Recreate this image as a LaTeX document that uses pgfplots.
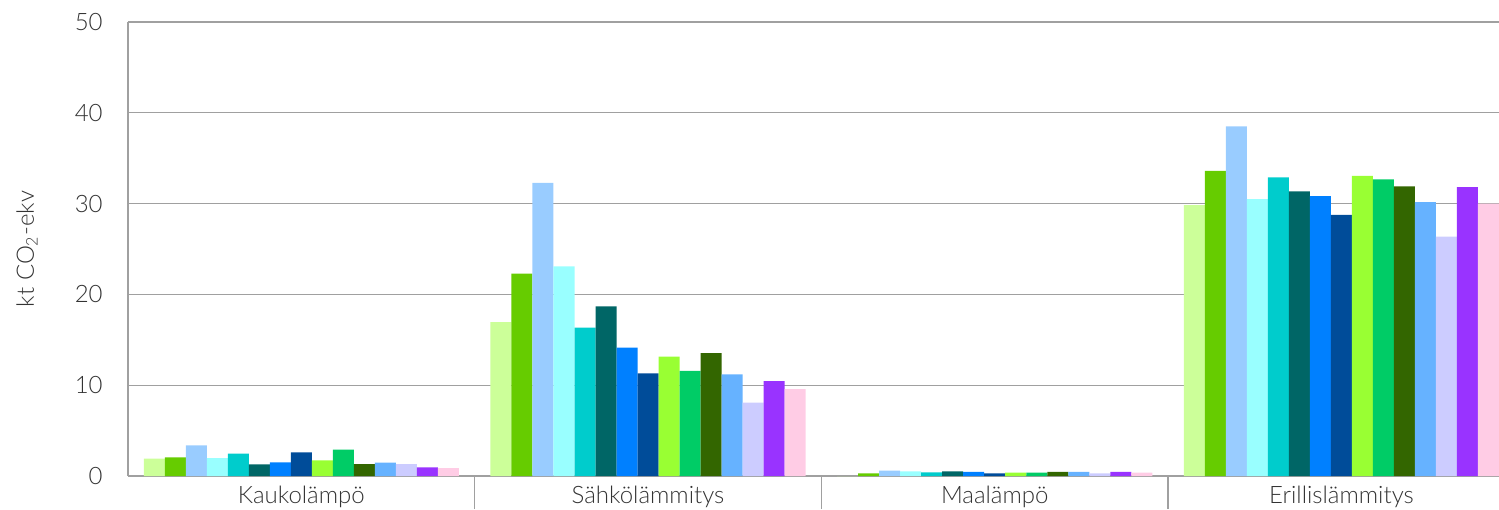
\documentclass[border=0pt]{standalone}
\usepackage{fontspec}
\setmainfont{Lato Light}
\usepackage{pgfplots}
\usepackage{pgfplotstable}
\pgfplotsset{compat=1.18}
\definecolor{c1}{HTML}{CCFF99}
\definecolor{c2}{HTML}{66CC00}
\definecolor{c3}{HTML}{99CCFF}
\definecolor{c4}{HTML}{99FFFF}
\definecolor{c5}{HTML}{00CCCC}
\definecolor{c6}{HTML}{006666}
\definecolor{c7}{HTML}{0080FF}
\definecolor{c8}{HTML}{004C99}
\definecolor{c9}{HTML}{99FF33}
\definecolor{c10}{HTML}{00CC66}
\definecolor{c11}{HTML}{336600}
\definecolor{c12}{HTML}{66B2FF}
\definecolor{c13}{HTML}{CCCCFF}
\definecolor{c14}{HTML}{9933FF}
\definecolor{c15}{HTML}{FFCCE5}
\definecolor{gridc}{HTML}{A0A0A0}
\definecolor{txt}{HTML}{333333}
\pgfplotstableread{
x s1 s2 s3 s4 s5 s6 s7 s8 s9 s10 s11 s12 s13 s14 s15
0 1.9 2.06 3.38 1.98 2.46 1.29 1.5 2.6 1.73 2.9 1.32 1.47 1.32 0.95 0.88
1 16.95 22.3 32.27 23.1 16.35 18.67 14.15 11.29 13.16 11.58 13.53 11.18 8.09 10.44 9.56
2 0 0.28 0.6 0.5 0.4 0.5 0.45 0.28 0.38 0.38 0.45 0.45 0.3 0.45 0.38
3 29.83 33.6 38.5 30.5 32.9 31.34 30.83 28.76 33.04 32.67 31.9 30.17 26.37 31.82 30.0
}\datatable
\begin{document}
\begin{tikzpicture}
\begin{axis}[
  scale only axis,
  width=685.5pt, height=227pt,
  xmin=-0.5, xmax=3.4545,
  ymin=0, ymax=50,
  ytick={0,10,20,30,40,50},
  xtick={0,1,2,3},
  xticklabels={Kaukolämpö,Sähkölämmitys,Maalämpö,Erillislämmitys},
  axis lines*=left,
  axis line style={gridc, line width=0.8pt},
  ymajorgrids,
  grid style={gridc, line width=0.7pt},
  major tick length=0pt,
  extra x ticks={0.5,1.5,2.5},
  extra x tick labels={},
  extra x tick style={major tick length=16.5pt, tick align=outside, grid=none, tick style={gridc, line width=0.8pt}},
  /pgf/number format/assume math mode=true,
  tick label style={font=\fontsize{12}{14}\selectfont, text=txt},
  yticklabel style={inner sep=0pt, xshift=-12.5pt},
  xticklabel style={anchor=north, inner sep=0pt, yshift=-5pt},
  ylabel={kt CO\textsubscript{2}-ekv},
  ylabel style={font=\fontsize{12}{14}\selectfont, text=txt, at={(axis description cs:0,0.5)}, anchor=center, yshift=50.5pt},
  ybar, bar width=0.0606,
  every axis plot/.append style={draw=none},
]
\addplot[fill=c1, bar shift=-0.4242] table[x=x,y=s1]{\datatable};
\addplot[fill=c2, bar shift=-0.3636] table[x=x,y=s2]{\datatable};
\addplot[fill=c3, bar shift=-0.3030] table[x=x,y=s3]{\datatable};
\addplot[fill=c4, bar shift=-0.2424] table[x=x,y=s4]{\datatable};
\addplot[fill=c5, bar shift=-0.1818] table[x=x,y=s5]{\datatable};
\addplot[fill=c6, bar shift=-0.1212] table[x=x,y=s6]{\datatable};
\addplot[fill=c7, bar shift=-0.0606] table[x=x,y=s7]{\datatable};
\addplot[fill=c8, bar shift=0] table[x=x,y=s8]{\datatable};
\addplot[fill=c9, bar shift=0.0606] table[x=x,y=s9]{\datatable};
\addplot[fill=c10, bar shift=0.1212] table[x=x,y=s10]{\datatable};
\addplot[fill=c11, bar shift=0.1818] table[x=x,y=s11]{\datatable};
\addplot[fill=c12, bar shift=0.2424] table[x=x,y=s12]{\datatable};
\addplot[fill=c13, bar shift=0.3030] table[x=x,y=s13]{\datatable};
\addplot[fill=c14, bar shift=0.3636] table[x=x,y=s14]{\datatable};
\addplot[fill=c15, bar shift=0.4242] table[x=x,y=s15]{\datatable};
\end{axis}
\pgfresetboundingbox
\path[use as bounding box] ([xshift=-64pt,yshift=-16.5pt]current axis.south west) rectangle ([yshift=11pt]current axis.north east);
\end{tikzpicture}
\end{document}
